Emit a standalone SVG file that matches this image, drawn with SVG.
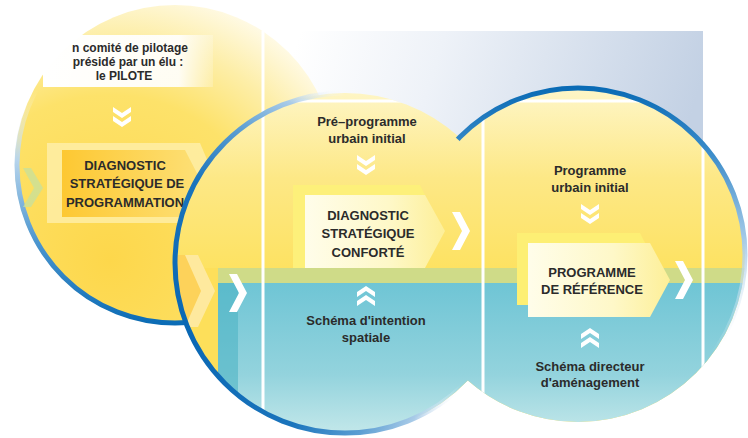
<svg xmlns="http://www.w3.org/2000/svg" width="748" height="438" viewBox="0 0 748 438">
<style>
.t{font-family:"Liberation Sans",Arial,sans-serif;font-weight:bold;font-size:13px;fill:#2b2b2b;text-anchor:middle}
.s{font-size:12px}
.wl{stroke:#ffffff;stroke-width:3;fill:none}
.wc{fill:#ffffff}
</style>
<defs>
<linearGradient id="bgG" gradientUnits="userSpaceOnUse" x1="300" y1="31" x2="680" y2="150">
<stop offset="0" stop-color="#ffffff"/><stop offset="0.35" stop-color="#eef2f8"/><stop offset="1" stop-color="#c3d1e4"/>
</linearGradient>
<radialGradient id="c1G" gradientUnits="userSpaceOnUse" cx="110" cy="260" r="300">
<stop offset="0" stop-color="#fdd74b"/><stop offset="0.55" stop-color="#fde26a"/><stop offset="0.75" stop-color="#fdeea8"/><stop offset="0.95" stop-color="#fffcf0"/>
</radialGradient>
<linearGradient id="r1G" gradientUnits="userSpaceOnUse" x1="0" y1="90" x2="0" y2="325">
<stop offset="0" stop-color="#ffffff" stop-opacity="0"/><stop offset="0.3" stop-color="#b6d4ec"/><stop offset="0.65" stop-color="#4b95cf"/><stop offset="1" stop-color="#0a6bb5"/>
</linearGradient>
<radialGradient id="r2G" gradientUnits="userSpaceOnUse" cx="175" cy="330" r="300">
<stop offset="0" stop-color="#0866b3"/><stop offset="0.5" stop-color="#1a74bc"/><stop offset="0.7" stop-color="#5a9dd2"/><stop offset="0.85" stop-color="#a9cbe8"/><stop offset="0.97" stop-color="#ffffff" stop-opacity="0"/>
</radialGradient>
<linearGradient id="r3G" gradientUnits="userSpaceOnUse" x1="0" y1="88" x2="0" y2="420">
<stop offset="0" stop-color="#0a6bb5"/><stop offset="0.2" stop-color="#3d8dca"/><stop offset="0.45" stop-color="#a3c9e7"/><stop offset="0.8" stop-color="#ffffff" stop-opacity="0"/>
</linearGradient>
<linearGradient id="yG" gradientUnits="userSpaceOnUse" x1="0" y1="88" x2="0" y2="268">
<stop offset="0" stop-color="#fef6c8"/><stop offset="0.5" stop-color="#fde886"/><stop offset="1" stop-color="#fde262"/>
</linearGradient>
<linearGradient id="tG" gradientUnits="userSpaceOnUse" x1="0" y1="283" x2="0" y2="435">
<stop offset="0" stop-color="#6fc5d5"/><stop offset="0.6" stop-color="#93d3dd"/><stop offset="1" stop-color="#c4e8ea"/>
</linearGradient>
<linearGradient id="wbG" x1="0" y1="0" x2="1" y2="0">
<stop offset="0" stop-color="#ffffff"/><stop offset="0.8" stop-color="#ffffff" stop-opacity="0.9"/><stop offset="1" stop-color="#ffffff" stop-opacity="0.2"/>
</linearGradient>
<linearGradient id="orG" x1="0" y1="0" x2="1" y2="0">
<stop offset="0" stop-color="#fdc832"/><stop offset="1" stop-color="#fde077"/>
</linearGradient>
<linearGradient id="inG" x1="0" y1="0" x2="1" y2="0">
<stop offset="0" stop-color="#fffdea"/><stop offset="0.6" stop-color="#fef8c8"/><stop offset="1" stop-color="#fdef98"/>
</linearGradient>
<clipPath id="u23"><circle cx="345" cy="263" r="170"/><circle cx="578" cy="255" r="167"/></clipPath>
<mask id="m2"><rect x="0" y="0" width="748" height="438" fill="#fff"/><circle cx="578" cy="255" r="164.5" fill="#000"/></mask>
<mask id="m3"><rect x="0" y="0" width="748" height="438" fill="#fff"/><circle cx="345" cy="263" r="167.5" fill="#000"/></mask>
<path id="dc" d="M-9,-10 L0,-4 L9,-10 L9,-5 L0,1 L-9,-5 Z M-9,-1 L0,5 L9,-1 L9,4 L0,10 L-9,4 Z"/>
<path id="bc" d="M0,0 L8,0 L18,19 L8,38 L0,38 L10,19 Z"/>
</defs>

<rect id="background" x="263" y="31" width="440" height="270" fill="url(#bgG)"/>

<g id="circle1">
<circle cx="175" cy="165" r="160" fill="url(#c1G)"/>
<circle cx="175" cy="165" r="158" fill="none" stroke="url(#r1G)" stroke-width="5"/>
</g>
<g id="pilote">
<rect x="43" y="35" width="170" height="52" fill="url(#wbG)"/>
<text class="t s" x="130" y="52">n comité de pilotage</text>
<text class="t s" x="128" y="66">présidé par un élu :</text>
<text class="t s" x="124" y="80">le PILOTE</text>
</g>
<use href="#dc" x="122" y="117" class="wc"/>
<path d="M23,168 L31,168 L43,188 L31,207 L23,207 L34,188 Z" fill="#c9e09a" opacity="0.8"/>
<g id="diag1">
<path d="M47,143 L200,143 L217,183 L200,223 L47,223 Z" fill="#fef0b0" opacity="0.75"/>
<path d="M62,150 L185,150 L202,183 L185,217 L62,217 Z" fill="url(#orG)"/>
<text class="t" x="125" y="170">DIAGNOSTIC</text>
<text class="t" x="127" y="188">STRATÉGIQUE DE</text>
<text class="t" x="125" y="207">PROGRAMMATION</text>
</g>
<line class="wl" x1="263" y1="31" x2="263" y2="120"/>

<g id="circles23" clip-path="url(#u23)">
<rect x="170" y="80" width="580" height="360" fill="url(#yG)"/>
<rect x="170" y="268" width="50" height="170" fill="#fddf5a"/>
<rect x="218" y="268" width="532" height="15" fill="#cfdb88"/>
<rect x="218" y="283" width="532" height="160" fill="url(#tG)"/>
<rect x="218" y="283" width="20" height="160" fill="#4fb4c4" opacity="0.6"/>
<path d="M176,255 L187,255 L203,291 L187,327 L176,327 Z" fill="#fdd25a"/>
<path d="M185,255 L198,255 L215,291 L198,327 L185,327 L201,291 Z" fill="#fee99e"/>
<rect x="263" y="101" width="440" height="400" class="wl"/>
<line class="wl" x1="483" y1="101" x2="483" y2="440"/>
</g>
<g id="connectors">
<circle cx="345" cy="263" r="170" fill="none" stroke="url(#r2G)" stroke-width="5" mask="url(#m2)"/>
<circle cx="578" cy="255" r="167" fill="none" stroke="url(#r3G)" stroke-width="5" mask="url(#m3)"/>
<use href="#bc" x="229" y="274" class="wc"/>
<use href="#bc" x="452" y="212" class="wc"/>
<use href="#bc" x="675" y="261" class="wc"/>
</g>

<g id="preprog">
<text class="t" x="367" y="126">Pré–programme</text>
<text class="t" x="367" y="143">urbain initial</text>
</g>
<use href="#dc" x="366" y="165" class="wc"/>
<g id="diag2">
<path d="M293,185 L420,185 L440,225 L420,268 L293,268 Z" fill="#fdf07a"/>
<path d="M305,195 L425,195 L445,231 L425,268 L305,268 Z" fill="url(#inG)"/>
<text class="t" x="368" y="220">DIAGNOSTIC</text>
<text class="t" x="368" y="238">STRATÉGIQUE</text>
<text class="t" x="368" y="257">CONFORTÉ</text>
</g>
<use href="#dc" transform="translate(366 296) scale(1 -1)" class="wc"/>
<g id="schema1">
<text class="t" x="366" y="325">Schéma d'intention</text>
<text class="t" x="366" y="342">spatiale</text>
</g>

<g id="prog">
<text class="t" x="590" y="175">Programme</text>
<text class="t" x="590" y="192">urbain initial</text>
</g>
<use href="#dc" x="590" y="214" class="wc"/>
<g id="progref">
<path d="M517,233 L640,233 L660,272 L640,305 L517,305 Z" fill="#fdef74"/>
<path d="M528,243 L650,243 L670,280 L650,317 L528,317 Z" fill="url(#inG)"/>
<text class="t" x="592" y="277">PROGRAMME</text>
<text class="t" x="592" y="294">DE RÉFÉRENCE</text>
</g>
<use href="#dc" transform="translate(590 338) scale(1 -1)" class="wc"/>
<g id="schema2">
<text class="t" x="590" y="371">Schéma directeur</text>
<text class="t" x="590" y="387">d'aménagement</text>
</g>
</svg>
